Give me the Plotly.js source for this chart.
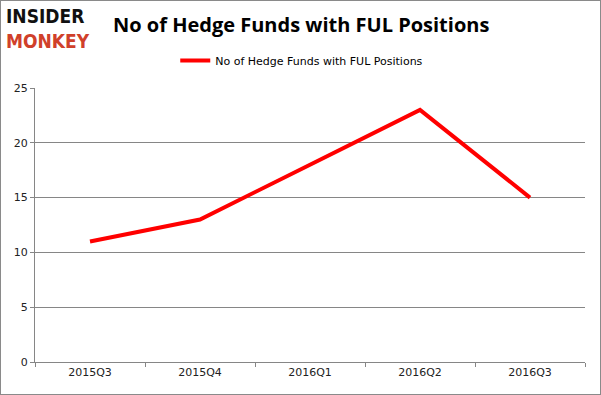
<!DOCTYPE html>
<html><head><meta charset="utf-8">
<script src="https://cdn.plot.ly/plotly-3.0.1.min.js"></script>
<style>
html,body{margin:0;padding:0;background:#fff;}
#chart{width:599px;height:393px;border:1px solid #8a8a8a;}
</style>
</head><body>
<div id="chart"></div>
<script>
const quarters = ["2015Q3","2015Q4","2016Q1","2016Q2","2016Q3"];
const funds = [11, 13, 18, 23, 15];
const seriesName = "No of Hedge Funds with FUL Positions";
const chartTitle = "No of Hedge Funds with FUL Positions";

const trace = {
  x: quarters, y: funds, type: "scatter", mode: "lines", name: seriesName,
  line: {color: "#ff0000", width: 4}
};
const layout = {
  width: 599, height: 393,
  margin: {l: 34, r: 15, t: 87, b: 32},
  paper_bgcolor: "#fff", plot_bgcolor: "#fff",
  font: {family: "DejaVu Sans, sans-serif", size: 11, color: "#222"},
  showlegend: true,
  legend: {orientation: "h", x: 0.485, xanchor: "center", y: 1.10, yanchor: "middle",
    font: {family: "DejaVu Sans, sans-serif", size: 11, color: "#000"}},
  xaxis: {type: "category", tickson: "boundaries", ticks: "outside", ticklen: 4, tickcolor: "#868686",
    showline: true, linecolor: "#868686", linewidth: 1, showgrid: false, zeroline: false,
    range: [-0.5, 4.5], fixedrange: true, tickfont: {size: 11, color: "#222"}},
  yaxis: {range: [0, 25], dtick: 5, ticks: "outside", ticklen: 4, tickcolor: "#868686",
    showline: true, linecolor: "#868686", showgrid: true, gridcolor: "#868686", gridwidth: 1,
    zeroline: false, tickfont: {size: 11, color: "#222"}, fixedrange: true},
  annotations: [
    {text: "<b>" + chartTitle + "</b>", xref: "paper", yref: "paper", x: 0.4836, y: 1.232, xanchor: "center", yanchor: "middle",
     showarrow: false, font: {family: "Open Sans, sans-serif", size: 20, color: "#000"}},
    {text: "<b>INSIDER</b>", xref: "paper", yref: "paper", x: -0.056, y: 1.262, xanchor: "left", yanchor: "middle",
     showarrow: false, font: {family: "DejaVu Sans Condensed, DejaVu Sans, sans-serif", size: 19, color: "#111"}},
    {text: "<b>MONKEY</b>", xref: "paper", yref: "paper", x: -0.056, y: 1.17, xanchor: "left", yanchor: "middle",
     showarrow: false, font: {family: "DejaVu Sans Condensed, DejaVu Sans, sans-serif", size: 19, color: "#d0402a"}}
  ]
};
Plotly.newPlot("chart", [trace], layout, {displayModeBar: false, staticPlot: true});
</script>
</body></html>
